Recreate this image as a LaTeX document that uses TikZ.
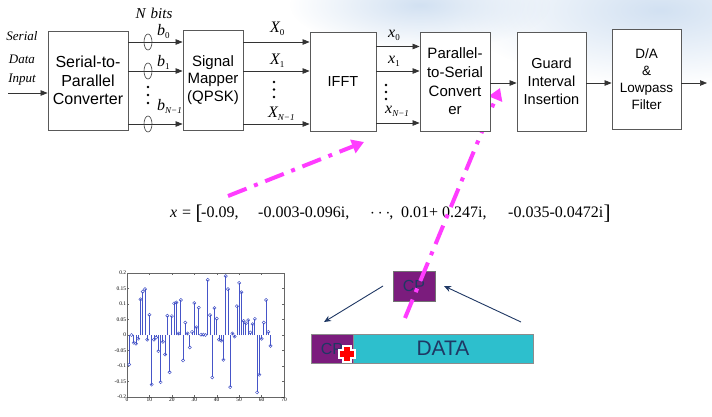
\documentclass[tikz,border=0pt]{standalone}
\usepackage{fontspec}
\setmainfont{Liberation Serif}
\setsansfont{Liberation Sans}
\usetikzlibrary{arrows.meta,shapes.geometric,fadings}
\definecolor{mag}{RGB}{255,60,255}
\definecolor{cppurple}{RGB}{123,28,125}
\definecolor{datacyan}{RGB}{45,191,205}
\definecolor{navy}{RGB}{31,56,100}
\definecolor{stemblue}{RGB}{70,85,200}
\definecolor{cloudblue}{RGB}{210,225,242}
\tikzfading[name=cloudfade, inner color=transparent!0, outer color=transparent!100]
\newcommand\lowsub[1]{\raisebox{-3.5pt}{\fontsize{9}{9}\selectfont #1}}
\tikzset{
  blk/.style={draw=black!65, fill=white, line width=0.8pt, inner sep=0pt, align=center},
  arr/.style={draw=black!80, line width=0.7pt, -{Triangle[length=7pt,width=5.5pt]}},
  lab/.style={inner sep=0pt, font=\fontsize{16}{16}\selectfont\itshape},
  inlab/.style={inner sep=0pt, font=\fontsize{13}{13}\selectfont\itshape},
  oval/.style={ellipse, draw=black!75, line width=0.6pt, minimum width=8pt, minimum height=16pt, inner sep=0pt},
  magarrow/.style={draw=mag, line width=4pt, dash pattern=on 20pt off 8pt on 4pt off 8pt, -{Triangle[length=12pt,width=14pt]}},
  navyarrow/.style={draw=navy, line width=0.9pt, -{Stealth[length=7pt,width=6pt]}},
  formula/.style={inner sep=0pt, anchor=base west, font=\fontsize{16}{16}\selectfont},
  mk/.style={circle, draw=stemblue, line width=0.5pt, minimum size=3.2pt, inner sep=0pt},
  stem/.style={draw=stemblue, line width=0.8pt},
  ticklab/.style={inner sep=0.6pt, font=\fontsize{5.5}{6}\selectfont},
}
\begin{document}
\begin{tikzpicture}[x=1pt,y=-1pt]
\useasboundingbox (0,0) rectangle (712,416);
\fill[white] (0,0) rectangle (712,416);
% faint sky in the top right
\fill[cloudblue, path fading=cloudfade] (660,10) ellipse [x radius=200, y radius=75];
\fill[cloudblue, path fading=cloudfade] (420,5) ellipse [x radius=130, y radius=45];

% ---------- CP / DATA sketch ----------
\node[draw=black!55, fill=cppurple, minimum width=42pt, minimum height=30pt, inner sep=0pt,
      font=\sffamily\fontsize{16}{16}\selectfont, text=navy] (cp) at (414,286) {CP};
\node[draw=black!45, fill=datacyan, minimum width=180pt, minimum height=29pt, inner sep=0pt,
      font=\sffamily\fontsize{21}{21}\selectfont, text=navy] (data) at (443,348.5) {DATA};
\node[draw=black!45, fill=cppurple, minimum width=42pt, minimum height=29pt, inner sep=0pt,
      font=\sffamily\fontsize{16}{16}\selectfont, text=navy] (cpb) at (332,348.5) {CP};
\begin{scope}[shift={(347,354)}]
\draw[white, line width=2.5pt, fill=red, line join=miter]
  (-4,-8) -- (4,-8) -- (4,-4) -- (8,-4) -- (8,4) -- (4,4) -- (4,8) -- (-4,8)
  -- (-4,4) -- (-8,4) -- (-8,-4) -- (-4,-4) -- cycle;
\end{scope}
\coordinate (nl0) at (383,286);
\coordinate (nl1) at (324,322);
\coordinate (nr0) at (521,322);
\coordinate (nr1) at (444,286);
\draw[navyarrow] (nl0) -- (nl1);
\draw[navyarrow] (nr0) -- (nr1);

% ---------- formula ----------
\node[formula] (fx) at (170,217) {\textit{x}};
\node[formula] (feq) at (182,217) {=};
\node[formula, font=\fontsize{21}{21}\selectfont] (fbl) at (195.5,219.5) {[};
\node[formula] (f1) at (201,217) {-0.09,};
\node[formula] (f2) at (258,217) {-0.003-0.096i,};
\node[formula] (f3) at (370,217) {$\cdots$\kern-1pt,};
\node[formula] (f4) at (401,217) {0.01+ 0.247i,};
\node[formula] (f5) at (508,217) {-0.035-0.0472i};
\node[formula, font=\fontsize{21}{21}\selectfont] (fbr) at (603.5,219.5) {]};

% ---------- magenta arrows ----------
\coordinate (m1a) at (228,196);
\coordinate (m1b) at (364,142);
\coordinate (m2a) at (405,318);
\coordinate (m2b) at (500,88);
\draw[magarrow] (m1a) -- (m1b);
\draw[magarrow] (m2a) -- (m2b);

% ---------- block diagram ----------
\node[blk, minimum width=80pt, minimum height=99pt, font=\sffamily\fontsize{16}{18.5}\selectfont]
  (sp) at (88,80.5) {Serial-to-\\Parallel\\Converter};
\node[blk, minimum width=60pt, minimum height=100pt, font=\sffamily\fontsize{15}{17.5}\selectfont]
  (sm) at (213,80) {Signal\\Mapper\\(QPSK)};
\node[blk, minimum width=66pt, minimum height=99pt, font=\sffamily\fontsize{14.5}{17}\selectfont]
  (ifft) at (343,81.5) {IFFT};
\node[blk, minimum width=70pt, minimum height=99pt, font=\sffamily\fontsize{15}{18.6}\selectfont]
  (ps) at (455,81.5) {Parallel-\\to-Serial\\Convert\\er};
\node[blk, minimum width=69pt, minimum height=99pt, font=\sffamily\fontsize{14.5}{18.3}\selectfont]
  (gi) at (551.5,81.5) {Guard\\Interval\\Insertion};
\node[blk, minimum width=69pt, minimum height=100pt, font=\sffamily\fontsize{13.5}{17}\selectfont]
  (da) at (646.5,79) {D/A\\\&\\Lowpass\\Filter};

% input
\node[inlab] (in1) at (22,36) {Serial};
\node[inlab] (in2) at (22,59) {Data};
\node[inlab] (in3) at (22,80) {Input};
\coordinate (inp) at (8,93);
\draw[arr] (inp) -- (sp.west |- inp);

% rows
\coordinate (ra) at (0,42);
\coordinate (rb) at (0,71);
\coordinate (rc) at (0,124);
\coordinate (sa) at (0,46.5);
\coordinate (sb) at (0,71);
\coordinate (sc) at (0,123);
\coordinate (rout) at (0,83);
\draw[arr] (sp.east |- ra) -- (sm.west |- ra);
\draw[arr] (sp.east |- rb) -- (sm.west |- rb);
\draw[arr] (sp.east |- rc) -- (sm.west |- rc);
\node[oval] (o0) at (148,42) {};
\node[oval] (o1) at (148,71) {};
\node[oval] (o2) at (148,124) {};
\foreach \yy in {87,95,103} { \fill (148,\yy) circle[radius=1.4]; }
\node[lab] (nbits) at (154,13) {\fontsize{15}{15}\selectfont N\hspace{5pt}bits};
\node[lab, anchor=base west] (b0) at (157,35) {b\lowsub{\upshape 0}};
\node[lab, anchor=base west] (b1) at (157,66) {b\lowsub{\upshape 1}};
\node[lab, anchor=base west] (bn) at (157,110) {b\lowsub{\textit{N}−1}};

\draw[arr] (sm.east |- ra) -- (ifft.west |- ra);
\draw[arr] (sm.east |- rb) -- (ifft.west |- rb);
\draw[arr] (sm.east |- rc) -- (ifft.west |- rc);
\foreach \yy in {82,89.5,97} { \fill (274,\yy) circle[radius=1.4]; }
\node[lab, anchor=base west] (X0) at (270,32) {X\lowsub{\upshape 0}};
\node[lab, anchor=base west] (X1) at (270,64) {X\lowsub{\upshape 1}};
\node[lab, anchor=base west] (Xn) at (268,117) {X\lowsub{\textit{N}−1}};

\draw[arr] (ifft.east |- sa) -- (ps.west |- sa);
\draw[arr] (ifft.east |- sb) -- (ps.west |- sb);
\draw[arr] (ifft.east |- sc) -- (ps.west |- sc);
\foreach \yy in {85,92,99} { \fill (386,\yy) circle[radius=1.3]; }
\node[lab, anchor=base west] (x0) at (388,37) {x\lowsub{\upshape 0}};
\node[lab, anchor=base west] (x1) at (388,63) {x\lowsub{\upshape 1}};
\node[lab, anchor=base west] (xn) at (385,113) {x\lowsub{\textit{N}−1}};

\draw[arr] (ps.east |- rout) -- (gi.west |- rout);
\draw[arr] (gi.east |- rout) -- (da.west |- rout);
\coordinate (outp) at (707,83);
\draw[arr] (da.east |- outp) -- (outp);

% ---------- stem plot ----------
\begin{scope}[shift={(127,335)}, xscale=2.243, yscale=-310]
\draw[black!60, line width=0.4pt] (0,-0.2) rectangle (70,0.2);
\foreach \v/\t [count=\i] in {0.2/0.2, 0.15/0.15, 0.1/0.1, 0.05/0.05, 0/0, -0.05/-0.05, -0.1/-0.1, -0.15/-0.15, -0.2/-0.2} {
  \draw[black!60, line width=0.3pt] (0,\v) -- ++(0.9,0);
  \draw[black!60, line width=0.3pt] (70,\v) -- ++(-0.9,0);
  \node[ticklab, anchor=east] (yl\i) at (0,\v) {\t};
}
\foreach \k [count=\i] in {0,10,...,70} {
  \draw[black!60, line width=0.3pt] (\k,-0.2) -- ++(0,0.008);
  \draw[black!60, line width=0.3pt] (\k,0.2) -- ++(0,-0.008);
  \node[ticklab, anchor=north] (xl\i) at (\k,-0.2) {\k};
}
\foreach \k/\v in {1/-0.095, 2/0, 3/-0.025, 4/-0.028, 5/-0.012, 6/0.115, 7/0.14, 8/0.148,
  9/-0.015, 10/0.065, 11/-0.16, 12/-0.015, 13/-0.008, 14/-0.052, 15/-0.152, 16/-0.022,
  17/-0.063, 18/0.062, 19/-0.12, 20/0.061, 21/0.102, 22/0.105, 23/0.005, 24/0.113,
  25/-0.082, 26/0.04, 27/0.005, 28/-0.04, 29/0.01, 30/0.103, 31/0.025, 32/0.088,
  33/0.001, 34/0.001, 35/0, 36/0.178, 37/0.064, 38/-0.137, 39/0.087, 40/0.053,
  41/-0.015, 42/-0.018, 43/-0.08, 44/0.19, 45/0.148, 46/-0.168, 47/0.005, 48/-0.005,
  49/0.093, 50/0.168, 51/0.138, 52/0.045, 53/0.038, 54/0.048, 55/0.008, 56/0.035,
  57/0.052, 58/-0.185, 59/-0.128, 60/-0.012, 61/0.04, 62/0.113, 63/0.01, 64/-0.035} {
  \draw[stem] (\k,0) -- (\k,\v);
  \node[mk] (mk\k) at (\k,\v) {};
}
\end{scope}
\end{tikzpicture}
\end{document}
